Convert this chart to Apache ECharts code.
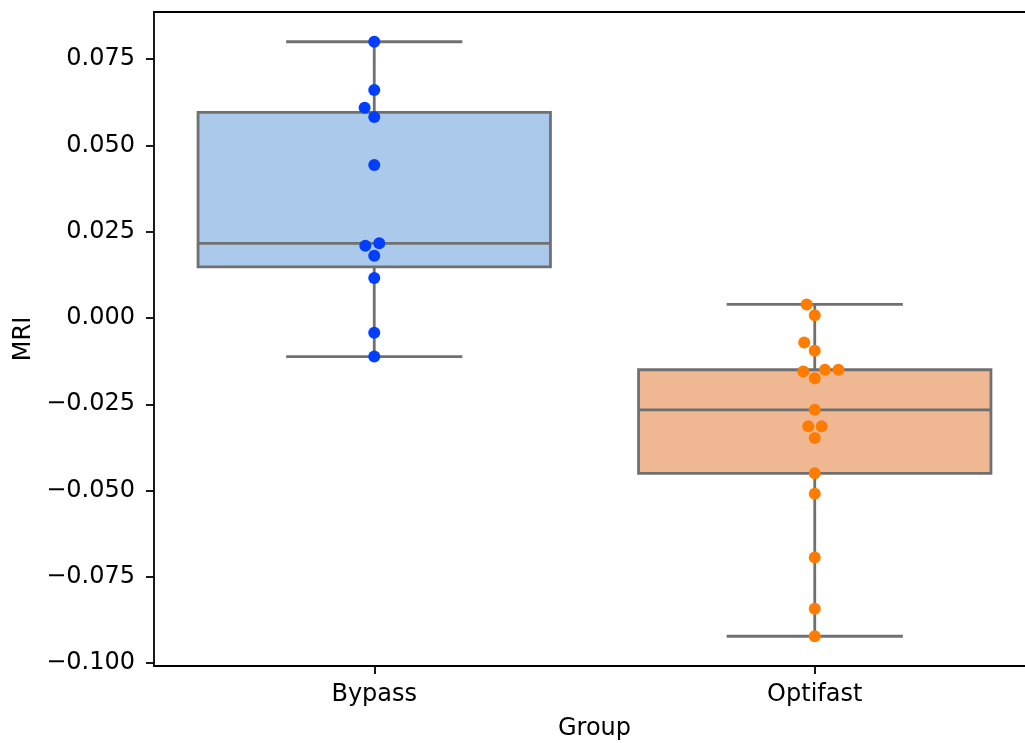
<!DOCTYPE html>
<html>
<head>
<meta charset="utf-8">
<script src="https://cdn.jsdelivr.net/npm/echarts@6/dist/echarts.min.js"></script>
<style>
  html, body { margin: 0; padding: 0; background: #fff; }
  #chart { width: 1025px; height: 743px; }
</style>
</head>
<body>
<div id="chart"></div>
<script>
// groups on the x axis
var groups = ['Bypass', 'Optifast'];

// MRI values per group
var bypassMRI = [0.0800, 0.0660, 0.0609, 0.0582, 0.0443, 0.0216, 0.0209, 0.0180, 0.0116, -0.0043, -0.0112];
var optifastMRI = [0.0039, 0.0008, -0.0071, -0.0095, -0.0150, -0.0150, -0.0155, -0.0175, -0.0266,
                   -0.0314, -0.0314, -0.0348, -0.0450, -0.0509, -0.0694, -0.0842, -0.0922];

// y tick labels
var yTicks = [-0.100, -0.075, -0.050, -0.025, 0.000, 0.025, 0.050, 0.075];

var boxColors = ['#abc9ea', '#efb792'];
var dotColors = ['#023eff', '#ff7c00'];
var edgeGray = '#707070';
var FONT = 'DejaVu Sans';

var groupData = [bypassMRI, optifastMRI];

// quantile, linear interpolation (numpy default)
function quantile(sorted, p) {
    var pos = (sorted.length - 1) * p;
    var lo = Math.floor(pos), hi = Math.ceil(pos);
    return sorted[lo] + (sorted[hi] - sorted[lo]) * (pos - lo);
}

var boxData = groupData.map(function (vals, i) {
    var s = vals.slice().sort(function (a, b) { return a - b; });
    return [i, s[0], quantile(s, 0.25), quantile(s, 0.5), quantile(s, 0.75), s[s.length - 1]];
});

// axis range with 5% margin like matplotlib
var allVals = bypassMRI.concat(optifastMRI);
var dMin = Math.min.apply(null, allVals), dMax = Math.max.apply(null, allVals);
var span = dMax - dMin;
var yMin = dMin - 0.05 * span, yMax = dMax + 0.05 * span;

function fmt(v) {
    var s = Math.abs(v).toFixed(3);
    return v < -1e-9 ? '\u2212' + s : s;
}

function renderBox(params, api) {
    var cat = api.value(0);
    var band = api.size([1, 0])[0];
    var bw = band * 0.8, cw = band * 0.4;
    var pMin = api.coord([cat, api.value(1)]);
    var pQ1 = api.coord([cat, api.value(2)]);
    var pMed = api.coord([cat, api.value(3)]);
    var pQ3 = api.coord([cat, api.value(4)]);
    var pMax = api.coord([cat, api.value(5)]);
    var cx = pMed[0];
    var lineStyle = { stroke: edgeGray, lineWidth: 2.8 };
    return {
        type: 'group',
        children: [
            { type: 'line', shape: { x1: cx, y1: pQ3[1], x2: cx, y2: pMax[1] }, style: lineStyle },
            { type: 'line', shape: { x1: cx, y1: pQ1[1], x2: cx, y2: pMin[1] }, style: lineStyle },
            { type: 'line', shape: { x1: cx - cw / 2, y1: pMax[1], x2: cx + cw / 2, y2: pMax[1] }, style: lineStyle },
            { type: 'line', shape: { x1: cx - cw / 2, y1: pMin[1], x2: cx + cw / 2, y2: pMin[1] }, style: lineStyle },
            { type: 'rect', shape: { x: cx - bw / 2, y: pQ3[1], width: bw, height: pQ1[1] - pQ3[1] },
              style: { fill: boxColors[cat], stroke: edgeGray, lineWidth: 2.8 } },
            { type: 'line', shape: { x1: cx - bw / 2, y1: pMed[1], x2: cx + bw / 2, y2: pMed[1] }, style: lineStyle }
        ]
    };
}

var chart = echarts.init(document.getElementById('chart'), null, { renderer: 'canvas' });

var option = {
    animation: false,
    backgroundColor: '#ffffff',
    grid: {
        left: 154, top: 12, right: -10, bottom: 77,
        outerBoundsMode: 'none',
        containLabel: false,
        show: false
    },
    xAxis: [{
        type: 'category',
        data: groups,
        name: 'Group',
        nameLocation: 'middle',
        nameGap: 51,
        nameTextStyle: { fontFamily: FONT, fontSize: 24, color: '#000' },
        axisLine: { show: true, onZero: false, lineStyle: { color: '#000', width: 1.8 } },
        axisTick: { show: true, alignWithLabel: true, length: 8, lineStyle: { color: '#000', width: 1.8 } },
        axisLabel: { fontFamily: FONT, fontSize: 24, color: '#000', margin: 17 },
        splitLine: { show: false }
    }, {
        type: 'value',
        min: -0.5, max: 1.5,
        show: false
    }, {
        // top spine only
        type: 'category',
        data: groups,
        position: 'top',
        axisLine: { show: true, onZero: false, lineStyle: { color: '#000', width: 1.8 } },
        axisTick: { show: false },
        axisLabel: { show: false },
        splitLine: { show: false }
    }],
    yAxis: [{
        type: 'value',
        min: yMin, max: yMax,
        name: 'MRI',
        nameLocation: 'middle',
        nameGap: 118,
        nameTextStyle: { fontFamily: FONT, fontSize: 24, color: '#000' },
        axisLine: { show: true, onZero: false, lineStyle: { color: '#000', width: 1.8 } },
        axisTick: { show: true, length: 8, customValues: yTicks, lineStyle: { color: '#000', width: 1.8 } },
        axisLabel: { fontFamily: FONT, fontSize: 24, color: '#000', margin: 19, customValues: yTicks, formatter: fmt },
        splitLine: { show: false }
    }],
    series: [{
        type: 'custom',
        xAxisIndex: 0,
        yAxisIndex: 0,
        renderItem: renderBox,
        data: boxData,
        z: 2
    }]
};
chart.setOption(option);

// seaborn-like beeswarm in pixel space
var DIAM = 13.4;
function swarmOffsets(vals) {
    var ys = vals.map(function (v) { return chart.convertToPixel({ yAxisIndex: 0 }, v); });
    var order = vals.map(function (v, i) { return i; }).sort(function (a, b) { return vals[a] - vals[b]; });
    var placed = [];
    var offsets = new Array(vals.length);
    order.forEach(function (i) {
        var y = ys[i];
        var neigh = placed.filter(function (p) { return Math.abs(p.y - y) < DIAM; });
        var left = [], right = [];
        neigh.forEach(function (p) {
            var dx = Math.sqrt(DIAM * DIAM - (p.y - y) * (p.y - y));
            left.push(p.x - dx);
            right.push(p.x + dx);
        });
        var cands = [0].concat(left, right).map(function (x, k) { return { x: x, k: k }; });
        cands.sort(function (a, b) { return (Math.abs(a.x) - Math.abs(b.x)) || (a.k - b.k); });
        var chosen = 0;
        for (var c = 0; c < cands.length; c++) {
            var cx = cands[c].x;
            var ok = neigh.every(function (p) {
                var ddx = p.x - cx, ddy = p.y - y;
                return ddx * ddx + ddy * ddy >= DIAM * DIAM - 1e-3;
            });
            if (ok) { chosen = cx; break; }
        }
        placed.push({ x: chosen, y: y });
        offsets[i] = chosen;
    });
    return offsets;
}

var pxPerUnit = chart.convertToPixel({ xAxisIndex: 1 }, 1) - chart.convertToPixel({ xAxisIndex: 1 }, 0);
var dotSeries = groupData.map(function (vals, g) {
    var offs = swarmOffsets(vals);
    return {
        type: 'scatter',
        xAxisIndex: 1,
        yAxisIndex: 0,
        symbolSize: 12,
        itemStyle: { color: dotColors[g], opacity: 1 },
        data: vals.map(function (v, i) { return [g + offs[i] / pxPerUnit, v]; }),
        z: 5
    };
});
chart.setOption({ series: option.series.concat(dotSeries) });
</script>
</body>
</html>
